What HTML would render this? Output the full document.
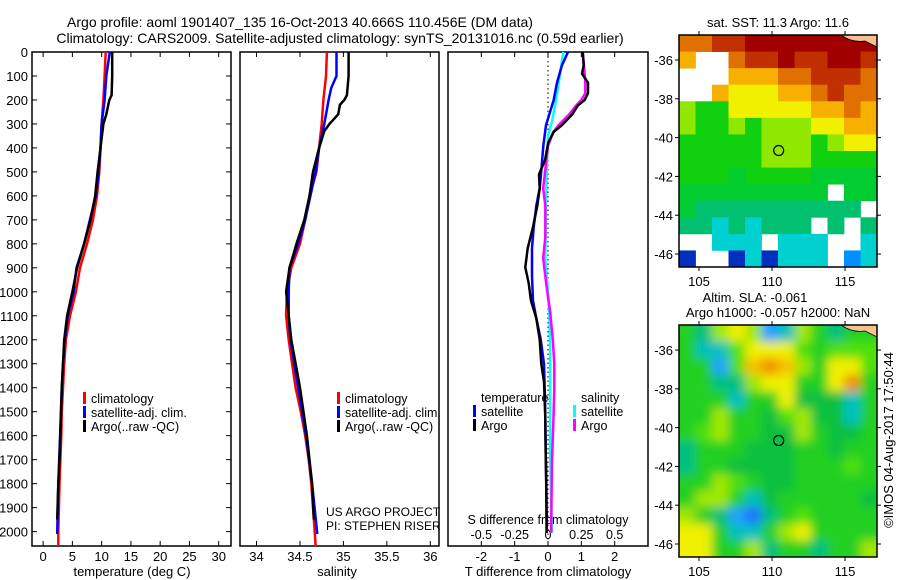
<!DOCTYPE html>
<html><head><meta charset="utf-8"><style>
html,body{margin:0;padding:0;background:#fff;}
svg{display:block;font-family:"Liberation Sans",sans-serif;}
</style></head><body>
<svg id="chart" width="900" height="580" viewBox="0 0 900 580">
<defs>
<filter id="blur" x="670" y="315" width="220" height="252" filterUnits="userSpaceOnUse"><feGaussianBlur stdDeviation="5"/></filter>
<clipPath id="slaclip"><rect x="679" y="325" width="198" height="232"/></clipPath>
</defs>
<text x="300" y="27" font-size="14" text-anchor="middle">Argo profile: aoml 1901407_135 16-Oct-2013 40.666S 110.456E (DM data)</text>
<text x="340" y="43" font-size="14" text-anchor="middle">Climatology: CARS2009. Satellite-adjusted climatology: synTS_20131016.nc (0.59d earlier)</text>
<g id="g"></g>
</svg>
<script>
// ---- profile data (depth in m) ----
const tClimDepth=[0,100,200,300,400,500,600,700,800,900,1000,1100,1200,1300,1400,1500,1600,1800,2000,2060];
const tClimVal=[10.7,10.5,10.3,10.0,9.8,9.6,9.2,8.5,7.5,6.3,5.6,4.6,3.9,3.6,3.4,3.2,3.1,2.8,2.6,2.6];
const tSatDepth=[0,100,200,300,400,500,600,700,800,900,1000,1100,1200,1300,1400,1600,1800,2010];
const tSatVal=[11.4,10.8,10.5,10.0,9.8,9.5,9.0,8.0,7.0,5.7,5.2,4.2,3.7,3.4,3.2,2.9,2.6,2.4];
const tArgoDepth=[0,100,180,200,260,300,400,500,600,700,800,900,1000,1100,1200,1400,1700,1800,1950];
const tArgoVal=[11.8,11.8,11.7,11.3,10.8,10.3,9.8,9.3,8.9,8.1,7.0,5.8,5.0,4.1,3.6,3.2,2.8,2.6,2.4];
const sClimDepth=[0,100,200,300,400,500,600,700,800,900,1000,1100,1200,1300,1400,1500,1600,1700,1800,1900,2000,2060];
const sClimVal=[34.81,34.80,34.77,34.75,34.72,34.69,34.61,34.56,34.50,34.40,34.35,34.34,34.37,34.41,34.45,34.51,34.56,34.60,34.63,34.65,34.67,34.68];
const sSatDepth=[0,100,150,200,300,400,500,600,700,800,900,1000,1100,1200,1400,1600,1800,2010];
const sSatVal=[34.92,34.92,34.86,34.83,34.78,34.72,34.68,34.62,34.56,34.48,34.38,34.37,34.37,34.39,34.48,34.57,34.64,34.70];
const sArgoDepth=[0,100,180,200,220,260,300,330,400,500,600,700,800,900,1000,1200,1400,1600,1800,1950];
const sArgoVal=[35.06,35.06,35.04,35.01,34.96,34.94,34.84,34.78,34.72,34.65,34.61,34.55,34.46,34.38,34.34,34.40,34.50,34.58,34.64,34.66];
const dTSatDepth=[0,55,128,200,305,392,495,568,641,730,818,935,1037,1110,1198,1301,1448,1668,1815,2005];
const dTSatVal=[0.6,0.42,0.27,0.17,-0.06,-0.14,-0.2,-0.25,-0.35,-0.43,-0.48,-0.48,-0.45,-0.35,-0.22,-0.12,-0.09,-0.07,-0.05,-0.04];
const dTArgoDepth=[0,55,90,128,172,200,224,260,305,333,377,451,510,568,641,730,818,898,964,1037,1110,1198,1301,1375,1520,1668,1815,2005];
const dTArgoVal=[1.04,1.07,1.02,1.2,1.2,1.1,0.89,0.73,0.42,0.17,0.01,-0.09,-0.27,-0.25,-0.32,-0.45,-0.61,-0.68,-0.58,-0.51,-0.35,-0.25,-0.2,-0.12,-0.08,-0.07,-0.05,-0.04];
const dSSatDepth=[0,55,128,200,290,348,495,641,860,935,1081,1228,1375,1668,2005];
const dSSatVal=[0.115,0.1,0.08,0.06,0.03,0,-0.01,-0.015,-0.02,-0.01,0.01,0.016,0.016,0.016,0.03];
const dSArgoDepth=[0,55,128,172,200,224,260,305,333,392,465,568,641,772,860,935,1022,1081,1198,1301,1404,1550,1700,2005];
const dSArgoVal=[0.26,0.27,0.28,0.28,0.25,0.21,0.16,0.08,0.04,0,-0.015,-0.036,-0.02,-0.02,-0.036,-0.02,0,0.016,0.036,0.047,0.047,0.04,0.03,0.023];
// ---- map data (12 cols x 14 rows) ----
const sstGrid=[
[13,13,13.5,13.5,14,14,14,14,14,14,14,14],
[12.5,null,null,13,13.5,13.5,14,13.5,13.5,14,14,13.5],
[null,null,null,12.5,12.5,12.5,13,13,13.5,13.5,13.5,13],
[null,null,12.5,12,12,12,12.5,12.5,13,13.5,13,13],
[11.5,11,11,12,12,12,12,12,12.5,12.5,13,12.5],
[11.5,11,11,11.5,11,11.5,11.5,11.5,12,12,12.5,12.5],
[11,11,11,11,11,11.5,11.5,11.5,11,11.5,12,12],
[11,11,11,11,11,11.5,11.5,11.5,11,11,11,11],
[11,11,11,10.8,11,11,11,11,10.8,10.8,10.8,10.8],
[10.8,10.8,10.8,10.8,10.8,10.8,10.8,10.8,10.8,null,10.8,10.8],
[10.8,10.6,10.6,10.6,10.6,10.6,10.6,10.6,10.6,10.6,10.6,null],
[10.6,10.6,10.5,10.6,10.4,10.6,10.6,10.6,null,10.6,null,10.6],
[null,null,10.5,10.5,10.5,null,10.5,10.5,10.5,null,null,10.5],
[9.3,null,null,9.5,10.5,9.3,10.2,10.5,10.5,null,9.6,10.4]];
const slaGrid=[
[0,-0.05,0.1,0.15,0.1,-0.15,-0.12,0.1,0,-0.05,0,0],
[0,-0.1,-0.1,0.05,0.2,0.2,0.15,0.05,0,0.05,0.05,0.05],
[0,0,-0.18,0.05,0.25,0.3,0.25,0.1,0,0.15,0.2,0.05],
[0,0,-0.05,-0.05,0.1,0.15,0.2,0,0,0.2,0.3,0],
[0,0,0,-0.1,0,0,0.15,-0.02,-0.02,-0.02,-0.08,0],
[0,0,0.1,0,0,-0.02,0.05,0.1,-0.02,-0.02,-0.08,0],
[0,0.05,0.1,0,0,-0.02,-0.02,0.1,0,-0.02,-0.02,0],
[-0.05,0,0,0,-0.02,-0.02,-0.02,0,0,-0.02,0,0],
[-0.05,0,0,-0.02,-0.02,-0.02,-0.02,0,0,0,0.05,0],
[0,0,0.1,0.05,0,-0.02,-0.02,0,0,0,0,0],
[0,0.1,0.1,0,-0.08,-0.02,0,0,0,0,0,-0.02],
[0.1,0,-0.05,-0.15,-0.25,-0.05,0,0.05,0,0,0,0],
[0.2,0.2,0,-0.1,-0.1,0,0.1,0.15,0,0,0,0],
[0.2,0.2,0,0,0.1,-0.05,0,0,-0.05,0,0,0.1]];
const depthTicks=[0,100,200,300,400,500,600,700,800,900,1000,1100,1200,1300,1400,1500,1600,1700,1800,1900,2000];
const tempTicks=[0,5,10,15,20,25,30];
const salTicks=[34,34.5,35,35.5,36];
const tdTicks=[-2,-1,0,1,2];
const sdTicks=[-0.5,-0.25,0,0.25,0.5];
const latTicks=[-36,-38,-40,-42,-44,-46];
const lonTicks=[105,110,115];

const NS='http://www.w3.org/2000/svg';
const G=document.getElementById('g');
function el(tag,attrs,parent){const e=document.createElementNS(NS,tag);for(const k in attrs)e.setAttribute(k,attrs[k]);(parent||G).appendChild(e);return e;}
function txt(x,y,s,size,anchor,parent){const t=el('text',{x:x,y:y,'font-size':size,'text-anchor':anchor||'middle'},parent);t.textContent=s;return t;}
const TOP=52,BOT=546,DMAX=2060;
const yD=d=>TOP+(BOT-TOP)*d/DMAX;
function panel(x0,x1,v0,v1,name){
  const r=el('rect',{x:x0,y:TOP,width:x1-x0,height:BOT-TOP,fill:'none',stroke:'#000','stroke-width':1.5});
  
  
  return v=>x0+(x1-x0)*(v-v0)/(v1-v0);
}
function line(xs,depths,vals,color,name,width){
  const pts=depths.map((d,i)=>xs(vals[i]).toFixed(1)+','+yD(d).toFixed(1)).join(' ');
  const p=el('polyline',{points:pts,fill:'none',stroke:color,'stroke-width':width||2.5,'stroke-linejoin':'miter'});
  
  
}
// Panel 1
const xT=panel(32,231,-1.9,32.1,'temperature-panel');
depthTicks.forEach(d=>{const y=yD(d);el('line',{x1:32,y1:y,x2:37,y2:y,stroke:'#000'});el('line',{x1:226,y1:y,x2:231,y2:y,stroke:'#000'});
  const t=txt(28,y+5,String(d),13,'end');});
tempTicks.forEach(v=>{const x=xT(v);el('line',{x1:x,y1:TOP,x2:x,y2:TOP+5,stroke:'#000'});el('line',{x1:x,y1:BOT,x2:x,y2:BOT-5,stroke:'#000'});
  const t=txt(x,561,String(v),13);});
const tt=txt(132,576,'temperature (deg C)',13);
line(xT,tClimDepth,tClimVal,'#f00','temp-climatology-line');
line(xT,tSatDepth,tSatVal,'#00f','temp-satellite-line');
line(xT,tArgoDepth,tArgoVal,'#000','temp-argo-line');
// Panel 2
const xS=panel(240,439,33.81,36.1,'salinity-panel');
salTicks.forEach(v=>{const x=xS(v);el('line',{x1:x,y1:TOP,x2:x,y2:TOP+5,stroke:'#000'});el('line',{x1:x,y1:BOT,x2:x,y2:BOT-5,stroke:'#000'});
  const t=txt(x,561,String(v),13);});
const st=txt(337,576,'salinity',13);
line(xS,sClimDepth,sClimVal,'#f00','sal-climatology-line');
line(xS,sSatDepth,sSatVal,'#00f','sal-satellite-line');
line(xS,sArgoDepth,sArgoVal,'#000','sal-argo-line');
txt(326,516,'US ARGO PROJECT',12,'start');
txt(326,530,'PI: STEPHEN RISER',12,'start');
// legends
function legend(x,y,color,label,name){const b=el('rect',{x:x,y:y-11,width:3,height:12,fill:color});
  const t=txt(x+8,y,label,12.5,'start');}
legend(83,403,'#f00','climatology','temp-legend-climatology');
legend(83,417,'#00f','satellite-adj. clim.','temp-legend-satellite');
legend(83,431,'#000','Argo(..raw -QC)','temp-legend-argo');
legend(337,403,'#f00','climatology','sal-legend-climatology');
legend(337,417,'#00f','satellite-adj. clim.','sal-legend-satellite');
legend(337,431,'#000','Argo(..raw -QC)','sal-legend-argo');
// Panel 3
const xD=panel(448,648,-3,3,'difference-panel');
const xSD=v=>xD(v*4);
el('line',{x1:xD(0),y1:TOP,x2:xD(0),y2:BOT,stroke:'#000','stroke-dasharray':'1.5,3'});
tdTicks.forEach(v=>{const x=xD(v);el('line',{x1:x,y1:TOP,x2:x,y2:TOP+5,stroke:'#000'});el('line',{x1:x,y1:BOT,x2:x,y2:BOT-5,stroke:'#000'});
  const t=txt(x,561,String(v),13);});
sdTicks.forEach(v=>{const t=txt(xSD(v),539,String(v),12.5);});
txt(548,524,'S difference from climatology',12.5);
const dt=txt(548,576,'T difference from climatology',13);
line(xSD,dSSatDepth,dSSatVal,'#0ff','sdiff-satellite-line');
line(xSD,dSArgoDepth,dSArgoVal,'#f0f','sdiff-argo-line');
line(xD,dTSatDepth,dTSatVal,'#00f','tdiff-satellite-line');
line(xD,dTArgoDepth,dTArgoVal,'#000','tdiff-argo-line');
txt(481,402,'temperature',12.5,'start');
txt(581,402,'salinity',12.5,'start');
legend(473,416,'#00f','satellite','tdiff-legend-satellite');
legend(473,430,'#000','Argo','tdiff-legend-argo');
legend(573,416,'#0ff','satellite','sdiff-legend-satellite');
legend(573,430,'#f0f','Argo','sdiff-legend-argo');
// Maps
function sstColor(v){const st=[[9.2,'#0030c0'],[9.6,'#0090ff'],[10.2,'#00d0d0'],[10.55,'#00c070'],[10.8,'#00cc30'],[11,'#10d010'],[11.5,'#90e800'],[12,'#f0f000'],[12.5,'#f8b000'],[13,'#e07000'],[13.5,'#c03000'],[14,'#a00000']];
  let c=st[0][1];for(const s of st){if(v>=s[0]-0.01)c=s[1];}return c;}
function slaColor(v){const st=[[-0.3,'#1e70ff'],[-0.18,'#20a0ff'],[-0.12,'#00c0c0'],[-0.07,'#00c080'],[-0.03,'#10c040'],[-0.01,'#20d020'],[0.05,'#50e010'],[0.1,'#a0e800'],[0.15,'#f0f000'],[0.25,'#f8c000'],[0.3,'#f09000']];
  let c=st[0][1];for(const s of st){if(v>=s[0]-0.001)c=s[1];}return c;}
function map(y0,grid,colorFn,name,smooth){
  const x0=679,x1=877,y1=y0+232,lon0=103.63,lon1=117.19,lat0=-34.71,lat1=-46.67;
  const X=lo=>x0+(x1-x0)*(lo-lon0)/(lon1-lon0), Y=la=>y0+(y1-y0)*(la-lat0)/(lat1-lat0);
  const rows=grid.length,cols=grid[0].length,cw=(x1-x0)/cols,ch=(y1-y0)/rows;
  let parent=G;
  if(smooth){const outer=el('g',{'clip-path':'url(#slaclip)'});parent=el('g',{filter:'url(#blur)'},outer);
    el('rect',{x:x0-15,y:y0-15,width:x1-x0+30,height:y1-y0+30,fill:'#20d020'},parent);}
  grid.forEach((row,r)=>row.forEach((v,c)=>{if(v===null)return;
    const ext=smooth&&(c===0||c===cols-1||r===0||r===rows-1)?12:0;
    const rx=x0+c*cw-(smooth&&c===0?ext:0), ry=y0+r*ch-(smooth&&r===0?ext:0);
    const rw=cw+0.4+(smooth&&(c===0||c===cols-1)?ext:0), rh=ch+0.4+(smooth&&(r===0||r===rows-1)?ext:0);
    const rc=el('rect',{x:rx.toFixed(2),y:ry.toFixed(2),width:rw.toFixed(2),height:rh.toFixed(2),fill:colorFn(v)},parent);
    
    }));
  el('path',{d:`M${x1-36},${y0} Q${x1-25},${y0+8} ${x1-12},${y0+6} L${x1},${y0+12} L${x1},${y0} Z`,fill:'#f8c090',stroke:'#000','stroke-width':0.8});
  el('rect',{x:x0,y:y0,width:x1-x0,height:y1-y0,fill:'none',stroke:'#000','stroke-width':1.5});
  latTicks.forEach(la=>{const y=Y(la);el('line',{x1:x0-4,y1:y,x2:x0,y2:y,stroke:'#000'});el('line',{x1:x1,y1:y,x2:x1+4,y2:y,stroke:'#000'});
    const t=txt(x0-6,y+5,String(la),13,'end');});
  lonTicks.forEach(lo=>{const x=X(lo);el('line',{x1:x,y1:y0-4,x2:x,y2:y0,stroke:'#000'});el('line',{x1:x,y1:y1,x2:x,y2:y1+4,stroke:'#000'});
    const t=txt(x,y1+19,String(lo),13);});
  const c=el('circle',{cx:X(110.456),cy:Y(-40.666),r:5,fill:'none',stroke:'#000','stroke-width':1.2});
  
  
}
map(35,sstGrid,sstColor,'sst-map',false);
map(325,slaGrid,slaColor,'sla-map',true);
txt(778,27,'sat. SST: 11.3 Argo: 11.6',13);
txt(755,302,'Altim. SLA: -0.061',13);
txt(778,317,'Argo h1000: -0.057 h2000: NaN',13);
const im=txt(0,0,'©IMOS 04-Aug-2017 17:50:44',13);
im.setAttribute('transform','translate(893,440) rotate(-90)');


</script>
</body></html>
